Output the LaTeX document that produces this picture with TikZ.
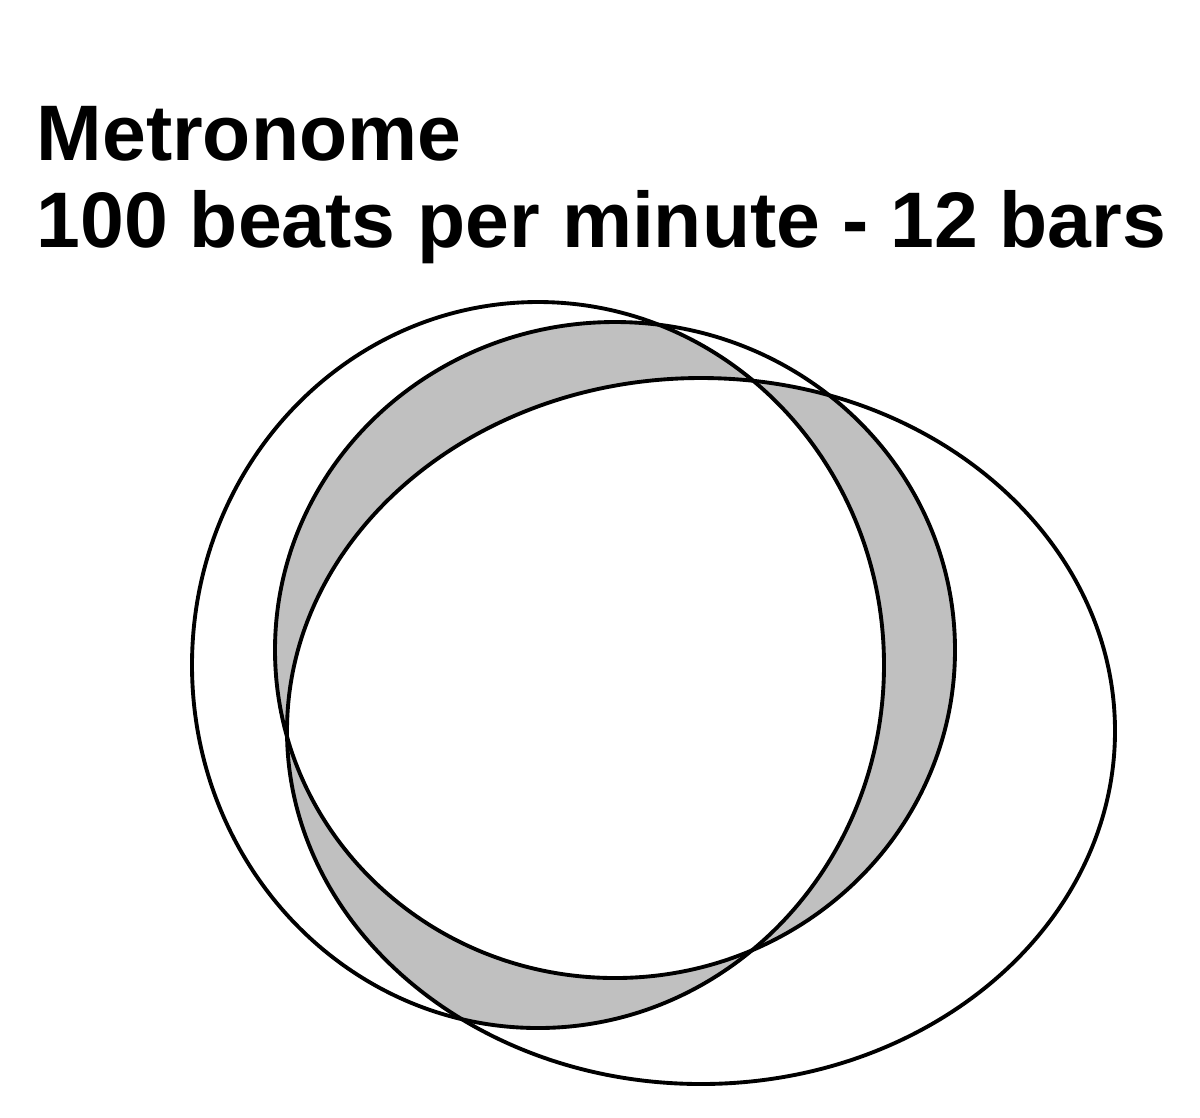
\documentclass[tikz,border=0pt]{standalone}
\usepackage{fontspec}
\setmainfont{Liberation Sans}
\definecolor{bandgray}{RGB}{192,192,192}

\begin{document}
\begin{tikzpicture}[x=0.01cm, y=-0.01cm,
            outline/.style={draw=black, line width=1.1pt},
            heading/.style={anchor=base west, inner sep=0pt, font=\fontsize{22.4}{26}\selectfont\bfseries}
        ]
            \useasboundingbox (0,0) rectangle (1200,1117);

            % Title lines
            \node[heading] (title) at (36,160) {Metronome};
            \node[heading] (subtitle) at (36,247) {100 beats per minute - 12 bars};

            % The three ellipses
            \def\leftell{(538,665) ellipse [x radius=346, y radius=363]}
            \def\midell{(615,650) ellipse [x radius=340, y radius=328]}
            \def\rightell{(701,731) ellipse [x radius=414, y radius=353]}

            % Grey where exactly two overlap
            \begin{scope}
                \clip \midell;
                \fill[bandgray] \leftell;
                \fill[bandgray] \rightell;
            \end{scope}
            \begin{scope}
                \clip \leftell;
                \fill[bandgray] \rightell;
            \end{scope}
            \begin{scope}
                \clip \midell;
                \clip \leftell;
                \fill[white] \rightell;
            \end{scope}

            \draw[outline] \leftell;
            \draw[outline] \midell;
            \draw[outline] \rightell;

        \end{tikzpicture}
\end{document}
